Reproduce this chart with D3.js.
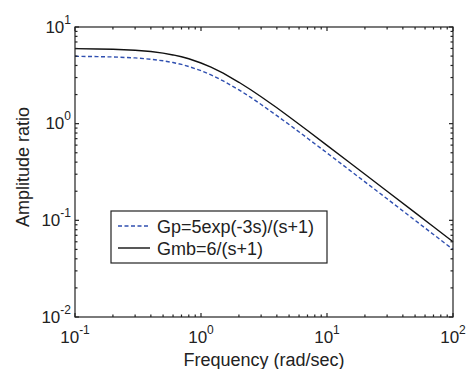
<!DOCTYPE html>
<html><head><meta charset="utf-8">
<script src="https://cdn.jsdelivr.net/npm/d3@7"></script>
<style>
html,body{margin:0;padding:0;background:#fff;}
svg text{font-family:"Liberation Sans",Arial,Helvetica,sans-serif;fill:#222;}
</style></head>
<body>
<svg id="chart" width="468" height="369"></svg>
<script>
// ---- data ----
const freq = [0.1,0.15,0.2,0.3,0.4,0.5,0.6,0.7,0.8,1,1.2,1.5,2,2.5,3,4,5,7,10,15,20,30,50,70,100];
const gpValues  = [4.98,4.94,4.90,4.79,4.64,4.47,4.29,4.10,3.90,3.54,3.20,2.77,2.24,1.86,1.58,1.21,0.98,0.707,0.498,0.333,0.25,0.167,0.1,0.0714,0.05];
const gmbValues = [5.97,5.93,5.88,5.75,5.57,5.37,5.14,4.92,4.69,4.24,3.84,3.33,2.68,2.23,1.90,1.46,1.18,0.849,0.597,0.399,0.30,0.20,0.12,0.0857,0.06];
const xTickExps = [-1,0,1,2];
const yTickExps = [-2,-1,0,1];
const seriesNames = ["Gp=5exp(-3s)/(s+1)","Gmb=6/(s+1)"];
const xLabel = "Frequency (rad/sec)";
const yLabel = "Amplitude ratio";

// ---- layout ----
const L=75, R=453, T=27, B=317;
const svg = d3.select("#chart");
const x = d3.scaleLog().domain([0.1,100]).range([L,R]);
const y = d3.scaleLog().domain([0.01,10]).range([B,T]);

// curves
const line = d3.line().x(d=>x(d[0])).y(d=>y(d[1]));
svg.append("path").datum(freq.map((f,i)=>[f,gpValues[i]]))
  .attr("d",line).attr("fill","none").attr("stroke","#2f4fb0")
  .attr("stroke-width",1.4).attr("stroke-dasharray","4,2.5");
svg.append("path").datum(freq.map((f,i)=>[f,gmbValues[i]]))
  .attr("d",line).attr("fill","none").attr("stroke","#111")
  .attr("stroke-width",1.4);

// axes box
const ax = svg.append("g").attr("stroke","#222").attr("stroke-width",1.2);
ax.append("rect").attr("x",L).attr("y",T).attr("width",R-L).attr("height",B-T).attr("fill","none");

function minors(lo,hi){const out=[];for(let e=lo;e<hi;e++){for(let d=2;d<=9;d++)out.push(d*Math.pow(10,e));}return out;}
const majLen=4, minLen=2.5;
// x ticks
xTickExps.forEach(e=>{const v=Math.pow(10,e);
  ax.append("line").attr("x1",x(v)).attr("x2",x(v)).attr("y1",B).attr("y2",B-majLen);
  ax.append("line").attr("x1",x(v)).attr("x2",x(v)).attr("y1",T).attr("y2",T+majLen);});
minors(-1,2).forEach(v=>{
  ax.append("line").attr("x1",x(v)).attr("x2",x(v)).attr("y1",B).attr("y2",B-minLen);
  ax.append("line").attr("x1",x(v)).attr("x2",x(v)).attr("y1",T).attr("y2",T+minLen);});
// y ticks
yTickExps.forEach(e=>{const v=Math.pow(10,e);
  ax.append("line").attr("y1",y(v)).attr("y2",y(v)).attr("x1",L).attr("x2",L+majLen);
  ax.append("line").attr("y1",y(v)).attr("y2",y(v)).attr("x1",R).attr("x2",R-majLen);});
minors(-2,1).forEach(v=>{
  ax.append("line").attr("y1",y(v)).attr("y2",y(v)).attr("x1",L).attr("x2",L+minLen);
  ax.append("line").attr("y1",y(v)).attr("y2",y(v)).attr("x1",R).attr("x2",R-minLen);});

// tick labels
const tfs=17, efs=12;
xTickExps.forEach(e=>{
  const t=svg.append("text").attr("x",x(Math.pow(10,e))).attr("y",343).attr("text-anchor","middle").attr("font-size",tfs);
  t.append("tspan").text("10");
  t.append("tspan").attr("font-size",efs).attr("dy",-9).text(String(e));
});
yTickExps.forEach(e=>{
  const t=svg.append("text").attr("x",71).attr("y",y(Math.pow(10,e))+5.5).attr("text-anchor","end").attr("font-size",tfs);
  t.append("tspan").text("10");
  t.append("tspan").attr("font-size",efs).attr("dy",-9).text(String(e));
});

// axis labels
svg.append("text").attr("x",(L+R)/2+0).attr("y",366).attr("text-anchor","middle").attr("font-size",18).text(xLabel);
svg.append("text").attr("transform","translate(29,167) rotate(-90)").attr("text-anchor","middle").attr("font-size",18).text(yLabel);

// legend
const lg = svg.append("g");
lg.append("rect").attr("x",111).attr("y",211).attr("width",216).attr("height",52)
  .attr("fill","#fff").attr("stroke","#222").attr("stroke-width",1.2);
const rows=[{y:226,dash:"4,2.5",col:"#2f4fb0"},{y:248,dash:null,col:"#111"}];
rows.forEach((r,i)=>{
  lg.append("line").attr("x1",118).attr("x2",150).attr("y1",r.y).attr("y2",r.y)
    .attr("stroke",r.col).attr("stroke-width",1.4).attr("stroke-dasharray",r.dash);
  lg.append("text").attr("x",157).attr("y",r.y+7).attr("font-size",18).text(seriesNames[i]);
});
</script>
</body></html>
